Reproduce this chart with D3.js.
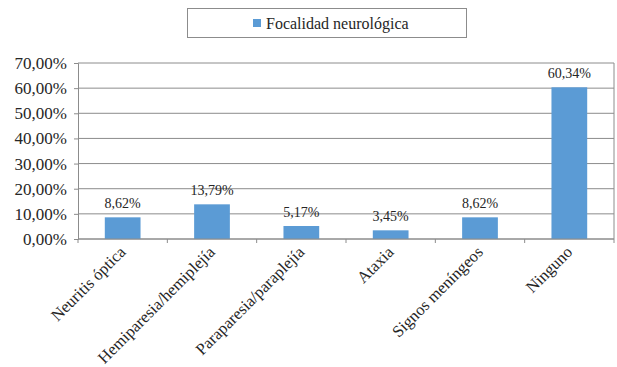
<!DOCTYPE html>
<html lang="es">
<head>
<meta charset="utf-8">
<title></title>
<script src="https://d3js.org/d3.v7.min.js"></script>
<style>
body { margin: 0; background: #fff; }
svg text { font-family: "Liberation Serif", "DejaVu Serif", "Times New Roman", Times, serif !important; fill: #262626; }
</style>
</head>
<body>
<svg width="617" height="367"></svg>
<script>

var categories = ["Neuritis óptica", "Hemiparesia/hemiplejía", "Paraparesia/paraplejía", "Ataxia", "Signos meníngeos", "Ninguno"];
var values = [8.62, 13.79, 5.17, 3.45, 8.62, 60.34];
var yTicks = [0, 10, 20, 30, 40, 50, 60, 70];
var seriesName = "Focalidad neurológica";

var svg = d3.select("svg");
var margin = {top: 63, right: 3, bottom: 128, left: 78};
var width = 617 - margin.left - margin.right;
var height = 367 - margin.top - margin.bottom;

var g = svg.append("g").attr("transform", `translate(${margin.left}, ${margin.top})`);

var x = d3.scaleBand().domain(categories).range([0, width]).paddingInner(0.6).paddingOuter(0.3);
var y = d3.scaleLinear().domain([0, 70]).range([height, 0]);

var fmt = v => v.toFixed(2).replace(".", ",") + "%";

// gridlines
g.selectAll(".grid").data(yTicks).enter().append("line")
    .attr("x1", 0).attr("x2", width)
    .attr("y1", d => y(d)).attr("y2", d => y(d))
    .attr("stroke", "#8c8c8c").attr("stroke-width", 1);

// right border
g.append("line").attr("x1", width).attr("x2", width).attr("y1", 0).attr("y2", height)
    .attr("stroke", "#8c8c8c");

// bars
g.selectAll(".bar").data(values).enter().append("rect")
    .attr("x", (d, i) => x(categories[i]))
    .attr("y", d => y(d))
    .attr("width", x.bandwidth())
    .attr("height", d => height - y(d))
    .attr("fill", "#5b9bd5");

// value labels
g.selectAll(".lbl").data(values).enter().append("text")
    .attr("x", (d, i) => x(categories[i]) + x.bandwidth() / 2)
    .attr("y", d => y(d) - 9)
    .attr("text-anchor", "middle")
    .style("font-size", "14px")
    .text(fmt);

// y axis
var yAxis = g.append("g")
    .call(d3.axisLeft(y).tickValues(yTicks).tickSize(4).tickFormat(fmt));
yAxis.attr("font-family", null);
yAxis.select(".domain").attr("stroke", "#8c8c8c");
yAxis.selectAll(".tick line").attr("stroke", "#8c8c8c");
yAxis.selectAll(".tick text").attr("x", -11).style("font-size", "17px").attr("fill", "#262626");

// x axis with ticks at band boundaries
var xAxis = g.append("g").attr("transform", `translate(0, ${height})`);
xAxis.append("line").attr("x1", 0).attr("x2", width).attr("stroke", "#8c8c8c");
var bounds = d3.range(categories.length + 1).map(i => i * width / categories.length);
xAxis.selectAll(".tk").data(bounds).enter().append("line")
    .attr("x1", d => d).attr("x2", d => d).attr("y1", 0).attr("y2", 4)
    .attr("stroke", "#8c8c8c");
xAxis.selectAll(".xl").data(categories).enter().append("text")
    .attr("transform", d => `translate(${x(d) + x.bandwidth() / 2 + 4}, 14) rotate(-45)`)
    .attr("text-anchor", "end")
    .style("font-size", "16.5px")
    .text(d => d);

// legend
var leg = svg.append("g").attr("transform", "translate(187, 8)");
leg.append("rect").attr("x", 0.5).attr("y", 0.5).attr("width", 279).attr("height", 29)
    .attr("fill", "#fff").attr("stroke", "#8c8c8c");
leg.append("rect").attr("x", 66).attr("y", 11).attr("width", 8).attr("height", 8).attr("fill", "#5b9bd5");
leg.append("text").attr("x", 79).attr("y", 20.5).style("font-size", "16px").text(seriesName);

</script>
</body>
</html>
